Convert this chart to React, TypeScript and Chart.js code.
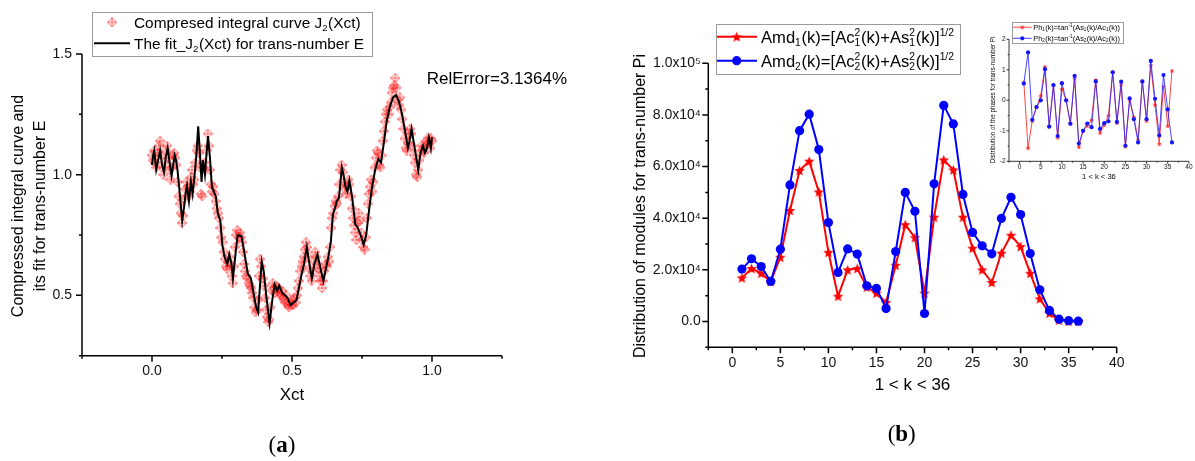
import React, { useEffect, useRef } from 'react';
import { Chart, registerables } from 'chart.js';

Chart.register(...registerables);

const SANS = '"Liberation Sans", Arial, Helvetica, sans-serif';
const SERIF = '"Liberation Serif", "Times New Roman", serif';

// ---------------- Panel (a) data ----------------
const fitX = [
  0.000, 0.004, 0.008, 0.015, 0.022, 0.029, 0.036, 0.043, 0.049, 0.056, 0.063, 0.070, 0.077, 0.081, 0.086,
  0.091, 0.097, 0.104, 0.108, 0.115, 0.121, 0.125, 0.132, 0.139, 0.145, 0.152, 0.159, 0.165, 0.170, 0.177,
  0.182, 0.189, 0.195, 0.200, 0.207, 0.214, 0.221, 0.228, 0.235, 0.244, 0.251, 0.259, 0.269, 0.276, 0.284,
  0.289, 0.299, 0.306, 0.320, 0.331, 0.342, 0.353, 0.361, 0.372, 0.379, 0.385, 0.392, 0.399, 0.409, 0.420,
  0.429, 0.438, 0.447, 0.454, 0.465, 0.475, 0.484, 0.495, 0.506, 0.516, 0.523, 0.534, 0.543, 0.553, 0.561,
  0.571, 0.580, 0.591, 0.602, 0.612, 0.621, 0.630, 0.639, 0.646, 0.653, 0.660, 0.668, 0.678, 0.684, 0.691,
  0.698, 0.705, 0.715, 0.726, 0.735, 0.745, 0.756, 0.765, 0.776, 0.786, 0.797, 0.808, 0.818, 0.829, 0.838,
  0.849, 0.861, 0.872, 0.883, 0.893, 0.904, 0.914, 0.920, 0.927, 0.934, 0.941, 0.951, 0.959, 0.968, 0.975,
  0.982, 0.989, 0.996, 1.000,
];
const fitY = [
  1.04, 1.08, 1.10, 1.02, 1.06, 1.10, 1.04, 1.01, 1.07, 1.11, 1.05, 0.995, 1.05, 1.08, 1.06,
  1.02, 0.95, 0.86, 0.81, 0.87, 0.93, 0.955, 0.89, 0.97, 0.92, 0.995, 1.09, 1.20, 1.11, 0.97,
  1.06, 1.00, 1.09, 1.16, 1.07, 0.95, 0.93, 0.91, 0.84, 0.81, 0.71, 0.66, 0.63, 0.67, 0.63,
  0.57, 0.68, 0.75, 0.745, 0.67, 0.59, 0.57, 0.52, 0.45, 0.43, 0.53, 0.64, 0.60, 0.49, 0.385,
  0.475, 0.545, 0.52, 0.54, 0.51, 0.50, 0.49, 0.46, 0.47, 0.48, 0.52, 0.585, 0.63, 0.70, 0.64,
  0.57, 0.63, 0.67, 0.61, 0.56, 0.61, 0.66, 0.725, 0.835, 0.86, 0.89, 0.905, 1.03, 1.00, 0.95,
  0.93, 0.975, 0.905, 0.795, 0.78, 0.75, 0.71, 0.75, 0.86, 0.95, 1.02, 1.065, 1.05, 1.14, 1.22,
  1.28, 1.32, 1.33, 1.30, 1.25, 1.18, 1.11, 1.14, 1.19, 1.14, 1.09, 1.02, 1.09, 1.12, 1.09,
  1.11, 1.155, 1.11, 1.155,
];
const compressedPoints: [number, number][] = [
  [0.000, 1.08], [0.004, 1.06], [0.008, 1.10], [0.012, 1.05], [0.016, 1.03], [0.020, 1.09], [0.025, 1.12],
  [0.029, 1.14], [0.033, 1.08], [0.037, 1.03], [0.041, 1.00], [0.045, 1.05], [0.050, 1.10], [0.054, 1.12],
  [0.058, 1.07], [0.062, 1.02], [0.066, 0.98], [0.070, 1.03], [0.075, 1.08], [0.079, 1.09], [0.083, 1.07],
  [0.087, 1.04], [0.091, 0.97], [0.095, 0.91], [0.099, 0.88], [0.103, 0.84], [0.107, 0.80], [0.111, 0.83],
  [0.115, 0.90], [0.119, 0.94], [0.123, 0.97], [0.127, 0.95], [0.131, 0.91], [0.135, 0.93], [0.139, 0.99],
  [0.143, 1.02], [0.147, 0.96], [0.151, 0.98], [0.155, 1.05], [0.159, 1.10], [0.163, 1.12], [0.167, 1.09],
  [0.171, 1.03], [0.175, 0.92], [0.179, 0.91], [0.183, 1.03], [0.187, 1.05], [0.191, 1.02], [0.195, 1.10],
  [0.199, 1.17], [0.203, 1.12], [0.207, 1.02], [0.211, 0.96], [0.215, 0.93], [0.219, 0.95], [0.223, 0.92],
  [0.227, 0.89], [0.231, 0.86], [0.235, 0.84], [0.239, 0.82], [0.244, 0.78], [0.248, 0.74], [0.252, 0.72],
  [0.256, 0.68], [0.260, 0.65], [0.264, 0.62], [0.268, 0.61], [0.272, 0.64], [0.276, 0.66], [0.280, 0.62],
  [0.284, 0.58], [0.288, 0.55], [0.292, 0.62], [0.296, 0.70], [0.300, 0.75], [0.305, 0.77], [0.309, 0.74],
  [0.313, 0.76], [0.317, 0.74], [0.321, 0.72], [0.325, 0.68], [0.329, 0.63], [0.333, 0.60], [0.337, 0.58],
  [0.341, 0.57], [0.345, 0.55], [0.350, 0.54], [0.354, 0.53], [0.358, 0.51], [0.362, 0.49], [0.366, 0.45],
  [0.370, 0.43], [0.374, 0.44], [0.378, 0.48], [0.382, 0.58], [0.386, 0.65], [0.390, 0.62], [0.395, 0.57],
  [0.399, 0.54], [0.403, 0.49], [0.407, 0.44], [0.411, 0.41], [0.415, 0.39], [0.419, 0.40], [0.423, 0.45],
  [0.427, 0.52], [0.431, 0.55], [0.435, 0.53], [0.440, 0.51], [0.444, 0.54], [0.448, 0.52], [0.452, 0.53],
  [0.456, 0.51], [0.460, 0.50], [0.464, 0.52], [0.468, 0.49], [0.472, 0.48], [0.476, 0.47], [0.480, 0.50],
  [0.485, 0.46], [0.489, 0.45], [0.493, 0.47], [0.497, 0.46], [0.501, 0.48], [0.505, 0.46], [0.509, 0.49],
  [0.513, 0.47], [0.517, 0.50], [0.521, 0.53], [0.525, 0.56], [0.530, 0.60], [0.534, 0.62], [0.538, 0.64],
  [0.542, 0.66], [0.546, 0.69], [0.550, 0.72], [0.554, 0.70], [0.558, 0.66], [0.562, 0.61], [0.566, 0.58],
  [0.570, 0.56], [0.575, 0.60], [0.579, 0.64], [0.583, 0.68], [0.587, 0.66], [0.591, 0.63], [0.595, 0.61],
  [0.599, 0.58], [0.603, 0.56], [0.607, 0.53], [0.611, 0.56], [0.615, 0.60], [0.620, 0.63], [0.624, 0.62],
  [0.628, 0.66], [0.632, 0.64], [0.636, 0.70], [0.640, 0.78], [0.644, 0.82], [0.648, 0.84], [0.652, 0.87],
  [0.656, 0.89], [0.660, 0.88], [0.665, 0.91], [0.669, 0.96], [0.673, 1.02], [0.677, 1.04], [0.681, 1.01],
  [0.685, 0.97], [0.689, 0.94], [0.693, 0.92], [0.697, 0.95], [0.701, 0.98], [0.705, 0.96], [0.710, 0.91],
  [0.714, 0.86], [0.718, 0.82], [0.722, 0.79], [0.726, 0.76], [0.730, 0.73], [0.734, 0.80], [0.738, 0.84],
  [0.742, 0.81], [0.746, 0.76], [0.750, 0.73], [0.755, 0.70], [0.759, 0.69], [0.763, 0.74], [0.767, 0.82],
  [0.771, 0.88], [0.775, 0.92], [0.779, 0.95], [0.783, 0.98], [0.787, 0.93], [0.791, 0.97], [0.795, 1.03],
  [0.800, 1.07], [0.804, 1.10], [0.808, 1.09], [0.812, 1.04], [0.816, 1.03], [0.820, 1.08], [0.824, 1.14],
  [0.828, 1.18], [0.832, 1.22], [0.836, 1.25], [0.840, 1.27], [0.845, 1.25], [0.849, 1.28], [0.853, 1.30],
  [0.857, 1.34], [0.861, 1.36], [0.865, 1.37], [0.869, 1.40], [0.873, 1.36], [0.877, 1.31], [0.881, 1.29],
  [0.885, 1.32], [0.890, 1.27], [0.894, 1.23], [0.898, 1.19], [0.902, 1.15], [0.906, 1.11], [0.910, 1.10],
  [0.914, 1.13], [0.918, 1.17], [0.922, 1.19], [0.926, 1.17], [0.930, 1.12], [0.935, 1.08], [0.939, 1.05],
  [0.943, 1.00], [0.947, 0.99], [0.951, 1.02], [0.955, 1.06], [0.959, 1.10], [0.963, 1.12], [0.967, 1.10],
  [0.971, 1.09], [0.975, 1.12], [0.980, 1.14], [0.984, 1.15], [0.988, 1.13], [0.992, 1.11], [0.996, 1.15],
  [1.000, 1.14],
];
const aXMajor = [0, 0.5, 1.0];
const aXMinor = [-0.25, 0.25, 0.75, 1.25];
const aYMajor = [0.5, 1.0, 1.5];
const aYMinor = [0.25, 0.75, 1.25];

// ---------------- Panel (b) data ----------------
const kValues = [
  1, 2, 3, 4, 5, 6, 7, 8, 9, 10, 11, 12, 13, 14, 15, 16, 17, 18,
  19, 20, 21, 22, 23, 24, 25, 26, 27, 28, 29, 30, 31, 32, 33, 34, 35, 36,
];
const amd1 = [
  16900, 20500, 18700, 15500, 24900, 43000, 58500, 62100, 50200, 26800, 9800, 20000, 20500, 13300, 11000, 7400, 21800, 37500,
  32500, 11000, 40400, 62600, 58700, 40400, 28400, 20000, 15100, 26500, 33400, 29000, 18700, 8800, 3200, 500, 100, 100,
];
const amd2 = [
  20300, 24300, 21300, 15500, 28000, 52900, 73900, 80300, 66600, 38300, 19000, 28100, 26100, 13800, 12800, 5000, 27100, 50000,
  42700, 3100, 53300, 83700, 76500, 49200, 34500, 29300, 26200, 39900, 48100, 41400, 26300, 12300, 4300, 900, 300, 100,
];
const bXMajor = [0, 5, 10, 15, 20, 25, 30, 35, 40];
const bXMinor = [-2.5, 2.5, 7.5, 12.5, 17.5, 22.5, 27.5, 32.5, 37.5];
const bYMajor = [0, 20000, 40000, 60000, 80000, 100000];
const bYLabels = ['0.0', '2.0x10⁴', '4.0x10⁴', '6.0x10⁴', '8.0x10⁴', '1.0x10⁵'];
const bYMinor = [-10000, 10000, 30000, 50000, 70000, 90000];

// ---------------- Inset data ----------------
const ph1 = [
  0.59, -1.56, -0.67, -0.22, 0.15, 1.10, -0.86, 0.50, -1.22, 0.37, 0.00, -0.75, 0.72, -1.53, -1.00, -0.83, -0.65, 0.67,
  -1.06, -0.81, -0.50, 0.93, -0.74, 0.52, -1.51, 0.01, -0.55, -1.30, 0.62, -0.67, 1.15, -0.15, -1.43, 0.45, -0.84, 0.97,
];
const ph2 = [
  0.55, 1.57, -0.64, -0.22, 0.00, 1.02, -0.86, 0.50, -1.17, 0.56, 0.00, -0.77, 0.80, -1.42, -1.00, -0.76, -0.88, 0.62,
  -0.94, -0.75, -0.69, 0.92, -0.71, 0.61, -1.49, 0.06, -0.62, -1.38, 0.62, -0.62, 1.29, 0.05, -1.15, 0.83, -0.30, -1.38,
];
const iXMajor = [0, 5, 10, 15, 20, 25, 30, 35, 40];
const iXMinor = [-2.5, 2.5, 7.5, 12.5, 17.5, 22.5, 27.5, 32.5, 37.5];
const iYMajor = [-2, -1, 0, 1, 2];
const iYMinor = [-1.5, -0.5, 0.5, 1.5];

// ---------------- helpers ----------------
interface Seg { t?: string; sub?: string; sup?: string }

function segWidth(ctx: CanvasRenderingContext2D, s: Seg, size: number, family: string) {
  if (s.t !== undefined) {
    ctx.font = `${size}px ${family}`;
    return ctx.measureText(s.t).width;
  }
  ctx.font = `${size * 0.62}px ${family}`;
  const a = s.sub ? ctx.measureText(s.sub).width : 0;
  const b = s.sup ? ctx.measureText(s.sup).width : 0;
  return Math.max(a, b) + size * 0.04;
}

function drawRich(ctx: CanvasRenderingContext2D, segs: Seg[], x: number, yMid: number, size: number,
  family: string, align: 'left' | 'center', color = '#000') {
  let w = 0;
  for (const s of segs) w += segWidth(ctx, s, size, family);
  let cx = align === 'center' ? x - w / 2 : x;
  const base = yMid + size * 0.36;
  ctx.fillStyle = color;
  ctx.textAlign = 'left';
  ctx.textBaseline = 'alphabetic';
  for (const s of segs) {
    const sw = segWidth(ctx, s, size, family);
    if (s.t !== undefined) {
      ctx.font = `${size}px ${family}`;
      ctx.fillText(s.t, cx, base);
    } else {
      ctx.font = `${size * 0.62}px ${family}`;
      if (s.sup) ctx.fillText(s.sup, cx, base - size * 0.42);
      if (s.sub) ctx.fillText(s.sub, cx, base + size * 0.2);
    }
    cx += sw;
  }
}

function drawRotated(ctx: CanvasRenderingContext2D, segs: Seg[], cx: number, cy: number, size: number, family: string) {
  ctx.save();
  ctx.translate(cx, cy);
  ctx.rotate(-Math.PI / 2);
  drawRich(ctx, segs, 0, 0, size, family, 'center');
  ctx.restore();
}

function legendBox(ctx: CanvasRenderingContext2D, l: number, t: number, r: number, b: number) {
  ctx.save();
  ctx.fillStyle = '#ffffff';
  ctx.fillRect(l, t, r - l, b - t);
  ctx.strokeStyle = '#9b9b9b';
  ctx.lineWidth = 1;
  ctx.strokeRect(Math.round(l) + 0.5, Math.round(t) + 0.5, Math.round(r - l), Math.round(b - t));
  ctx.restore();
}

interface AxisSpec { xMajor: number[]; xMinor: number[]; yMajor: number[]; yMinor: number[]; lw: number; maj: number; min: number }

function drawAxes(chart: any, s: AxisSpec) {
  const { ctx, chartArea: a } = chart;
  const x = chart.scales.x;
  const y = chart.scales.y;
  ctx.save();
  ctx.strokeStyle = '#000';
  ctx.lineWidth = s.lw;
  ctx.beginPath();
  ctx.moveTo(a.left, a.top);
  ctx.lineTo(a.left, a.bottom);
  ctx.lineTo(a.right, a.bottom);
  for (const v of s.xMajor) { const p = x.getPixelForValue(v); ctx.moveTo(p, a.bottom); ctx.lineTo(p, a.bottom + s.maj); }
  for (const v of s.xMinor) { const p = x.getPixelForValue(v); ctx.moveTo(p, a.bottom); ctx.lineTo(p, a.bottom + s.min); }
  for (const v of s.yMajor) { const p = y.getPixelForValue(v); ctx.moveTo(a.left, p); ctx.lineTo(a.left - s.maj, p); }
  for (const v of s.yMinor) { const p = y.getPixelForValue(v); ctx.moveTo(a.left, p); ctx.lineTo(a.left - s.min, p); }
  ctx.stroke();
  ctx.restore();
}

function makeDiamond(): HTMLCanvasElement {
  const c = document.createElement('canvas');
  c.width = 10; c.height = 10;
  const g = c.getContext('2d')!;
  g.strokeStyle = 'rgba(255,0,0,0.6)';
  g.lineWidth = 1;
  g.beginPath();
  g.moveTo(5, 0.5); g.lineTo(9.5, 5); g.lineTo(5, 9.5); g.lineTo(0.5, 5); g.closePath();
  g.moveTo(5, 0.5); g.lineTo(5, 9.5);
  g.moveTo(0.5, 5); g.lineTo(9.5, 5);
  g.stroke();
  return c;
}

function makeStar(outer: number, color: string): HTMLCanvasElement {
  const size = Math.ceil(outer * 2 + 2);
  const c = document.createElement('canvas');
  c.width = size; c.height = size;
  const g = c.getContext('2d')!;
  const cx = size / 2, cy = size / 2 + outer * 0.1, inner = outer * 0.45;
  g.fillStyle = color;
  g.beginPath();
  for (let i = 0; i < 10; i++) {
    const r = i % 2 === 0 ? outer : inner;
    const ang = -Math.PI / 2 + (i * Math.PI) / 5;
    const px = cx + r * Math.cos(ang), py = cy + r * Math.sin(ang);
    if (i === 0) g.moveTo(px, py); else g.lineTo(px, py);
  }
  g.closePath();
  g.fill();
  return c;
}

function drawImgCentered(ctx: CanvasRenderingContext2D, img: HTMLCanvasElement, x: number, y: number) {
  ctx.drawImage(img, x - img.width / 2, y - img.height / 2);
}

function drawLabel(ctx: CanvasRenderingContext2D, cx: number, cy: number, letter: string, size: number) {
  ctx.save();
  ctx.fillStyle = '#000';
  ctx.textBaseline = 'middle';
  ctx.textAlign = 'left';
  ctx.font = `${size}px ${SERIF}`;
  const w1 = ctx.measureText('(').width;
  const w3 = ctx.measureText(')').width;
  ctx.font = `bold ${size}px ${SERIF}`;
  const w2 = ctx.measureText(letter).width;
  let x = cx - (w1 + w2 + w3) / 2;
  ctx.font = `${size}px ${SERIF}`;
  ctx.fillText('(', x, cy); x += w1;
  ctx.font = `bold ${size}px ${SERIF}`;
  ctx.fillText(letter, x, cy); x += w2;
  ctx.font = `${size}px ${SERIF}`;
  ctx.fillText(')', x, cy);
  ctx.restore();
}

function axisScale(min: number, max: number, majors: number[], labels: (v: number, i: number) => string,
  size: number, padding: number, fit: (s: any) => void) {
  return {
    type: 'linear' as const,
    min, max,
    grid: { display: false, drawTicks: false },
    border: { display: false },
    afterBuildTicks: (s: any) => { s.ticks = majors.map((v) => ({ value: v })); },
    afterFit: fit,
    ticks: {
      autoSkip: false,
      maxRotation: 0,
      minRotation: 0,
      padding,
      color: '#111',
      font: { family: SANS, size },
      callback: (v: any, i: number) => labels(Number(v), i),
    },
  };
}

export default function App() {
  const refA = useRef<HTMLCanvasElement>(null);
  const refB = useRef<HTMLCanvasElement>(null);
  const refI = useRef<HTMLCanvasElement>(null);

  useEffect(() => {
    const diamond = makeDiamond();
    const starBig = makeStar(5.5, '#ff0000');
    const starSmall = makeStar(2.6, '#ff3030');

    // ---------- Chart (a) ----------
    const chartA = new Chart(refA.current!, {
      type: 'scatter',
      data: {
        datasets: [
          {
            label: 'The fit_J2(Xct) for trans-number E',
            data: fitX.map((x, i) => ({ x, y: fitY[i] })),
            showLine: true,
            borderColor: '#000',
            borderWidth: 2,
            pointRadius: 0,
            tension: 0,
            order: 0,
          },
          {
            label: 'Compresed integral curve J2(Xct)',
            data: compressedPoints.map(([x, y]) => ({ x, y })),
            showLine: false,
            pointStyle: diamond as any,
            pointRadius: 5,
            order: 1,
          },
        ],
      },
      options: {
        animation: false,
        responsive: false,
        devicePixelRatio: 1,
        layout: { padding: { left: 0, right: 98, top: 54, bottom: 0 } },
        plugins: { legend: { display: false }, tooltip: { enabled: false } },
        scales: {
          x: axisScale(-0.25, 1.25, aXMajor, (v) => v.toFixed(1), 14, 7, (s) => { s.height = 105.3; }),
          y: axisScale(0.25, 1.5, aYMajor, (v) => v.toFixed(1), 14, 10, (s) => { s.width = 82; }),
        },
      } as any,
      plugins: [
        {
          id: 'decorA',
          afterDraw(chart: any) {
            const ctx = chart.ctx as CanvasRenderingContext2D;
            drawAxes(chart, { xMajor: aXMajor, xMinor: aXMinor, yMajor: aYMajor, yMinor: aYMinor, lw: 1.5, maj: 6, min: 3 });
            // legend
            legendBox(ctx, 91.7, 11.7, 371.7, 56);
            drawImgCentered(ctx, diamond, 112, 22.3);
            ctx.save();
            ctx.strokeStyle = '#000'; ctx.lineWidth = 2;
            ctx.beginPath(); ctx.moveTo(94, 43.3); ctx.lineTo(130, 43.3); ctx.stroke();
            ctx.restore();
            drawRich(ctx, [{ t: 'Compresed integral curve J' }, { sub: '2' }, { t: '(Xct)' }], 134, 22.3, 15.4, SANS, 'left');
            drawRich(ctx, [{ t: 'The fit_J' }, { sub: '2' }, { t: '(Xct) for trans-number E' }], 134, 43.3, 15.4, SANS, 'left');
            // annotation
            drawRich(ctx, [{ t: 'RelError=3.1364%' }], 426.7, 78, 17, SANS, 'left');
            // axis titles
            const a = chart.chartArea;
            drawRich(ctx, [{ t: 'Xct' }], (a.left + a.right) / 2, 394, 17, SANS, 'center');
            drawRotated(ctx, [{ t: 'Compressed integral curve and' }], 17.5, 206, 16, SANS);
            drawRotated(ctx, [{ t: 'its fit for trans-number E' }], 39.5, 206, 16, SANS);
            drawLabel(ctx, 282, 446, 'a', 23);
          },
        },
      ],
    });

    // ---------- Chart (b) ----------
    const chartB = new Chart(refB.current!, {
      type: 'scatter',
      data: {
        datasets: [
          {
            label: 'Amd2',
            data: kValues.map((k, i) => ({ x: k, y: amd2[i] })),
            showLine: true,
            borderColor: '#0000ff',
            backgroundColor: '#0000ff',
            borderWidth: 2,
            pointStyle: 'circle',
            pointRadius: 4.6,
            pointBorderWidth: 0,
            tension: 0,
            order: 0,
          },
          {
            label: 'Amd1',
            data: kValues.map((k, i) => ({ x: k, y: amd1[i] })),
            showLine: true,
            borderColor: '#ff0000',
            backgroundColor: '#ff0000',
            borderWidth: 2,
            pointStyle: starBig as any,
            pointRadius: 5,
            tension: 0,
            order: 1,
          },
        ],
      },
      options: {
        animation: false,
        responsive: false,
        devicePixelRatio: 1,
        layout: { padding: { left: 0, right: 78.3, top: 63.3, bottom: 0 } },
        plugins: { legend: { display: false }, tooltip: { enabled: false } },
        scales: {
          x: axisScale(-2.5, 40, bXMajor, (v) => String(v), 14, 7, (s) => { s.height = 113.7; }),
          y: axisScale(-10000, 100000, bYMajor, (v, i) => bYLabels[i], 14, 7.5, (s) => { s.width = 108.3; }),
        },
      } as any,
      plugins: [
        {
          id: 'decorB',
          afterDraw(chart: any) {
            const ctx = chart.ctx as CanvasRenderingContext2D;
            drawAxes(chart, { xMajor: bXMajor, xMinor: bXMinor, yMajor: bYMajor, yMinor: bYMinor, lw: 1.5, maj: 6, min: 3 });
            legendBox(ctx, 115.7, 24, 359.3, 74);
            ctx.save();
            ctx.lineWidth = 2;
            ctx.strokeStyle = '#ff0000';
            ctx.beginPath(); ctx.moveTo(117, 36.7); ctx.lineTo(157, 36.7); ctx.stroke();
            ctx.strokeStyle = '#0000ff';
            ctx.beginPath(); ctx.moveTo(117, 60.7); ctx.lineTo(157, 60.7); ctx.stroke();
            ctx.fillStyle = '#0000ff';
            ctx.beginPath(); ctx.arc(136.7, 60.7, 4.6, 0, Math.PI * 2); ctx.fill();
            ctx.restore();
            drawImgCentered(ctx, starBig, 136.7, 36.7);
            drawRich(ctx, [{ t: 'Amd' }, { sub: '1' }, { t: '(k)=[Ac' }, { sub: '1', sup: '2' }, { t: '(k)+As' }, { sub: '1', sup: '2' }, { t: '(k)]' }, { sup: '1/2' }], 161, 36.7, 16.6, SANS, 'left');
            drawRich(ctx, [{ t: 'Amd' }, { sub: '2' }, { t: '(k)=[Ac' }, { sub: '2', sup: '2' }, { t: '(k)+As' }, { sub: '2', sup: '2' }, { t: '(k)]' }, { sup: '1/2' }], 161, 60.7, 16.6, SANS, 'left');
            const a = chart.chartArea;
            drawRich(ctx, [{ t: '1 < k < 36' }], (a.left + a.right) / 2, 384, 17, SANS, 'center');
            drawRotated(ctx, [{ t: 'Distribution of modules for trans-number Pi' }], 39, 206, 16, SANS);
            drawLabel(ctx, 301.7, 435, 'b', 23);
          },
        },
      ],
    });

    // ---------- Inset ----------
    const chartI = new Chart(refI.current!, {
      type: 'scatter',
      data: {
        datasets: [
          {
            label: 'Ph2',
            data: kValues.map((k, i) => ({ x: k, y: ph2[i] })),
            showLine: true,
            borderColor: 'rgba(40,40,255,0.85)',
            backgroundColor: '#1515ff',
            borderWidth: 1,
            pointStyle: 'circle',
            pointRadius: 2.1,
            pointBorderWidth: 0,
            tension: 0,
            order: 0,
          },
          {
            label: 'Ph1',
            data: kValues.map((k, i) => ({ x: k, y: ph1[i] })),
            showLine: true,
            borderColor: 'rgba(255,50,50,0.9)',
            backgroundColor: '#ff3030',
            borderWidth: 1,
            pointStyle: starSmall as any,
            pointRadius: 2.5,
            tension: 0,
            order: 1,
          },
        ],
      },
      options: {
        animation: false,
        responsive: false,
        devicePixelRatio: 1,
        layout: { padding: { left: 0, right: 4, top: 29.3, bottom: 0 } },
        plugins: { legend: { display: false }, tooltip: { enabled: false } },
        scales: {
          x: axisScale(-2.5, 40, iXMajor, (v) => String(v), 6.5, 2.5, (s) => { s.height = 38.7; }),
          y: axisScale(-2, 2, iYMajor, (v) => String(v), 6.5, 3.5, (s) => { s.width = 39; }),
        },
      } as any,
      plugins: [
        {
          id: 'decorI',
          afterDraw(chart: any) {
            const ctx = chart.ctx as CanvasRenderingContext2D;
            drawAxes(chart, { xMajor: iXMajor, xMinor: iXMinor, yMajor: iYMajor, yMinor: iYMinor, lw: 0.8, maj: 2.5, min: 1.3 });
            legendBox(ctx, 41.7, 12.3, 152.3, 33.7);
            ctx.save();
            ctx.lineWidth = 1;
            ctx.strokeStyle = 'rgba(255,50,50,0.9)';
            ctx.beginPath(); ctx.moveTo(43, 17.2); ctx.lineTo(61.7, 17.2); ctx.stroke();
            ctx.strokeStyle = 'rgba(40,40,255,0.85)';
            ctx.beginPath(); ctx.moveTo(43, 28.3); ctx.lineTo(61.7, 28.3); ctx.stroke();
            ctx.fillStyle = '#1515ff';
            ctx.beginPath(); ctx.arc(52.3, 28.3, 2.1, 0, Math.PI * 2); ctx.fill();
            ctx.restore();
            drawImgCentered(ctx, starSmall, 52.3, 17.2);
            drawRich(ctx, [{ t: 'Ph' }, { sub: '1' }, { t: '(k)=tan' }, { sup: '-1' }, { t: '(As' }, { sub: '1' }, { t: '(k)/Ac' }, { sub: '1' }, { t: '(k))' }], 63.3, 17.2, 7.4, SANS, 'left');
            drawRich(ctx, [{ t: 'Ph' }, { sub: '2' }, { t: '(k)=tan' }, { sup: '-1' }, { t: '(As' }, { sub: '2' }, { t: '(k)/Ac' }, { sub: '2' }, { t: '(k))' }], 63.3, 28.3, 7.4, SANS, 'left');
            const a = chart.chartArea;
            drawRich(ctx, [{ t: '1 < k < 36' }], (a.left + a.right) / 2, 166.7, 7.6, SANS, 'center');
            drawRotated(ctx, [{ t: 'Distribution of the phases for trans-number Pi' }], 23, 90, 6.3, SANS);
          },
        },
      ],
    });

    return () => {
      chartA.destroy();
      chartB.destroy();
      chartI.destroy();
    };
  }, []);

  return (
    <div style={{ position: 'fixed', left: 0, top: 0, width: 1195, height: 461, background: '#fff', overflow: 'hidden' }}>
      <canvas ref={refA} width={600} height={461} style={{ position: 'absolute', left: 0, top: 0, width: 600, height: 461 }} />
      <canvas ref={refB} width={595} height={461} style={{ position: 'absolute', left: 600, top: 0, width: 595, height: 461 }} />
      <canvas ref={refI} width={225} height={190} style={{ position: 'absolute', left: 970, top: 10, width: 225, height: 190 }} />
    </div>
  );
}
